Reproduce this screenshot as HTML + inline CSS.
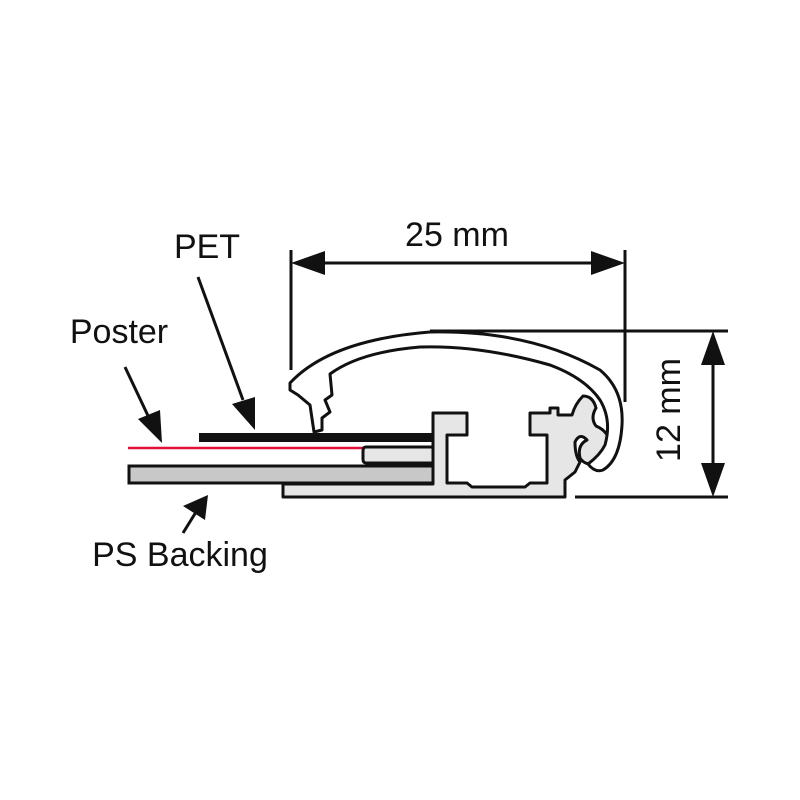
<!DOCTYPE html>
<html><head><style>
body{margin:0;background:#fff;}
svg{display:block}
text{font-family:"Liberation Sans",sans-serif;fill:#111;}
</style></head><body>
<svg width="800" height="800" viewBox="0 0 800 800" xmlns="http://www.w3.org/2000/svg">
<defs>
<marker id="ah" markerWidth="10" markerHeight="10" refX="9" refY="5" orient="auto" markerUnits="userSpaceOnUse" viewBox="0 0 10 10">
</marker>
</defs>
<g stroke="#111" stroke-width="3" fill="none">
<!-- dimension lines -->
<line x1="291" y1="250" x2="291" y2="370"/>
<line x1="625" y1="250" x2="625" y2="402"/>
<line x1="320" y1="263" x2="598" y2="263"/>
<line x1="430" y1="331" x2="728" y2="331"/>
<line x1="575" y1="497" x2="728" y2="497"/>
<line x1="713" y1="360" x2="713" y2="468"/>
<!-- leaders -->
<line x1="198" y1="277" x2="243" y2="400"/>
<line x1="125" y1="367" x2="150" y2="420"/>
<line x1="183" y1="533" x2="196" y2="512"/>
</g>
<g fill="#111">
<polygon points="291,263 325,251 325,275"/>
<polygon points="625,263 591,251 591,275"/>
<polygon points="713,331 701,365 725,365"/>
<polygon points="713,497 701,463 725,463"/>
<polygon points="255,430 232,404 255,397"/>
<polygon points="162,443 138,419 160,410"/>
<polygon points="208,495 183,506 205,520"/>
</g>
<!-- red poster -->
<line x1="128" y1="448" x2="365" y2="448" stroke="#e0103a" stroke-width="2.5"/>
<!-- PET -->
<rect x="199" y="433" width="234" height="9" fill="#111"/>
<!-- PS backing -->
<rect x="129" y="466" width="304" height="17" fill="#c8c8c8" stroke="#111" stroke-width="3"/>
<!-- base profile -->
<path d="M283,484 L433,484 L433,447 L366,447 Q363,447 363,451 L363,459 Q363,463 366,463 L433,463 L433,413 L467,413 L467,435 L447,435 L447,483 L467,483 L472,487 L525,487 L530,483 L547,483 L547,435 L530,435 L530,413 L550,413 L550,408 L558,408 L558,415 L572,415 Q575,404 583,396 Q593,396 596,408 Q590,418 596,426 Q610,432 610,446 Q608,462 598,464 Q585,466 580,458 Q577,445 587,440 Q580,432 575,442 Q575,456 580,462 L575,472 L565,480 L565,497 L283,497 Z" fill="#e6e6e6" stroke="#111" stroke-width="3" stroke-linejoin="round"/>
<!-- cover -->
<path d="M290,383 Q330,340 430,332 Q530,330 600,370 Q624,390 622,425 Q620,460 603,470 Q595,473 588,464 Q600,455 605,445 Q612,420 600,400 Q585,378 550,365 Q480,345 420,347 Q360,352 330,374 L332,395 L325,400 L330,412 L322,418 L322,430 L314,432 L310,405 L298,395 L290,390 Z" fill="#fff" stroke="#111" stroke-width="3" stroke-linejoin="round"/>
<text x="457" y="246" font-size="34" text-anchor="middle">25 mm</text>
<text x="207" y="258" font-size="34" text-anchor="middle">PET</text>
<text x="119" y="343" font-size="34" text-anchor="middle">Poster</text>
<text x="180" y="566" font-size="34" text-anchor="middle">PS Backing</text>
<text x="0" y="0" font-size="34" text-anchor="middle" transform="translate(680,410) rotate(-90)">12 mm</text>
</svg>
</body></html>
